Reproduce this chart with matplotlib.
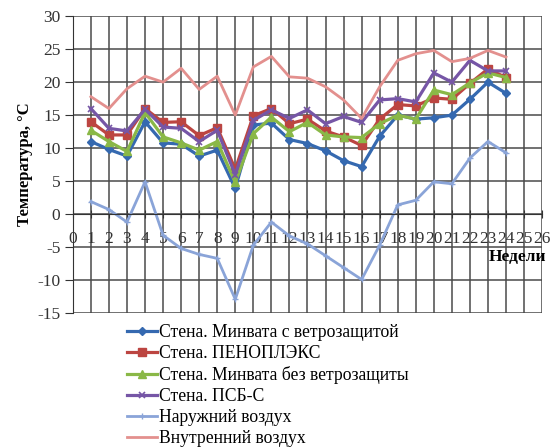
import numpy as np
import matplotlib
matplotlib.use("Agg")
import matplotlib.pyplot as plt

# weeks 1..24
weeks = list(range(1, 25))

wall_minvata_wind = [11.0, 9.8, 8.8, 14.0, 10.8, 10.6, 8.8, 9.7, 3.9, 13.5, 13.8, 11.3,
                     10.7, 9.6, 8.1, 7.2, 11.8, 15.0, 14.4, 14.6, 15.0, 17.4, 20.0, 18.3]
wall_penoplex = [14.0, 12.0, 12.0, 16.0, 13.9, 14.0, 11.9, 13.1, 6.8, 14.9, 16.0, 13.7,
                 14.4, 12.6, 11.7, 10.4, 14.4, 16.6, 16.4, 17.6, 17.4, 19.8, 22.0, 20.7]
wall_minvata_nowind = [12.7, 11.0, 9.5, 15.4, 11.7, 10.8, 9.7, 11.0, 4.8, 12.2, 14.7, 12.5,
                       13.9, 12.0, 11.7, 11.6, 13.7, 15.0, 14.4, 18.8, 18.1, 19.9, 21.4, 20.7]
wall_psb = [16.0, 13.0, 12.6, 15.9, 13.2, 13.0, 11.0, 12.7, 6.0, 14.2, 15.8, 14.5,
            15.8, 13.7, 14.8, 13.9, 17.3, 17.5, 17.0, 21.4, 20.0, 23.3, 21.7, 21.7]
outdoor_air = [1.9, 0.7, -1.2, 4.9, -3.2, -5.2, -6.1, -6.7, -12.9, -4.7, -1.2, -3.3,
               -4.5, -6.3, -8.1, -9.9, -4.7, 1.4, 2.1, 4.9, 4.6, 8.5, 11.0, 9.3]
indoor_air = [17.8, 16.0, 19.0, 20.9, 20.0, 22.1, 18.9, 20.9, 15.0, 22.3, 23.9, 20.8,
              20.6, 19.3, 17.3, 14.5, 19.3, 23.3, 24.3, 24.8, 23.1, 23.6, 24.8, 23.8]

labels = ["Стена. Минвата с ветрозащитой", "Стена. ПЕНОПЛЭКС",
          "Стена. Минвата без ветрозащиты", "Стена. ПСБ-С",
          "Наружний воздух", "Внутренний воздух"]

plt.rcParams['font.family'] = ['Liberation Serif', 'DejaVu Serif']
plt.rcParams['axes.unicode_minus'] = False

fig = plt.figure(figsize=(5.56, 4.48), dpi=100)
ax = fig.add_axes([0.131, 0.301, 0.844, 0.663])

ax.plot(weeks, wall_minvata_wind, color="#3569b0", lw=2.3, marker="D", ms=4.5, label=labels[0])
ax.plot(weeks, wall_penoplex, color="#bc4541", lw=2.3, marker="s", ms=6, label=labels[1])
ax.plot(weeks, wall_minvata_nowind, color="#8ab847", lw=2.3, marker="^", ms=6, label=labels[2])
ax.plot(weeks, wall_psb, color="#7656a6", lw=2.3, marker="x", ms=5, mew=1.2, label=labels[3])
ax.plot(weeks, outdoor_air, color="#8aa4d8", lw=2.0, marker="+", ms=4, label=labels[4])
ax.plot(weeks, indoor_air, color="#e3908e", lw=2.0, label=labels[5])

ax.set_xlim(0, 26)
ax.set_ylim(-15, 30)
ax.set_xticks(range(0, 27))
ax.set_yticks(range(-15, 31, 5))
ax.grid(True, color="#4a4a4a", lw=1.1)
ax.set_axisbelow(True)

ax.spines["bottom"].set_position(("data", 0))
ax.spines["top"].set_visible(False)
ax.spines["right"].set_visible(False)
ax.spines["left"].set_color("#333333")
ax.spines["bottom"].set_color("#333333")
ax.tick_params(axis="x", direction="inout", length=6, labelsize=12.5, pad=9, colors="#333333")
ax.tick_params(axis="y", direction="out", length=6, labelsize=12.5, pad=3, colors="#333333")
for t in ax.get_xticklabels() + ax.get_yticklabels():
    t.set_color("#333333")

ax.set_ylabel("Температура, °С", fontsize=12, fontweight="bold", labelpad=3)
ax.text(26.2, -6.5, "Недели", fontsize=12.5, fontweight="bold", ha="right", va="center")

fig.legend(loc="upper left", bbox_to_anchor=(0.228, 0.276), frameon=False,
           fontsize=12.7, handlelength=1.7, handletextpad=0.1, labelspacing=0.22,
           borderaxespad=0, borderpad=0)

fig.savefig("out.png", dpi=100)
